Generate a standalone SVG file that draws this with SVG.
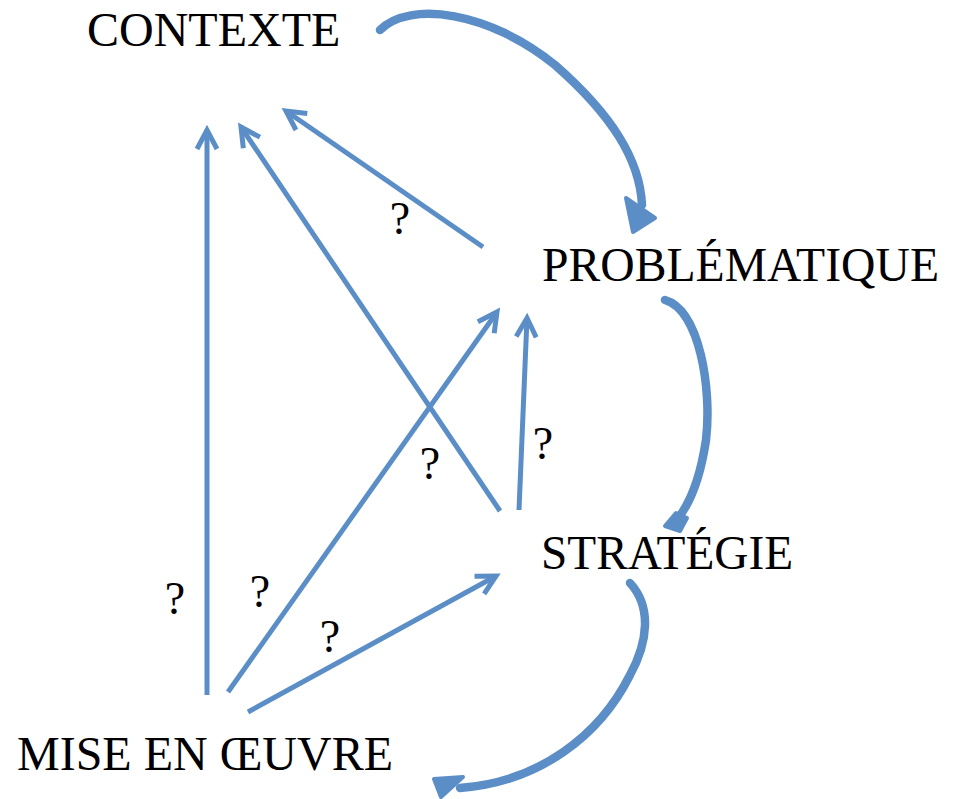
<svg xmlns="http://www.w3.org/2000/svg" width="954" height="799" viewBox="0 0 954 799">
<style>
.lbl{font-family:"Liberation Serif","Times New Roman",serif;font-size:48px;fill:#000}
.q{font-family:"Liberation Serif","Times New Roman",serif;font-size:46px;fill:#000;text-anchor:middle}
.thin{fill:none;stroke:#5B8EC7;stroke-width:5;marker-end:url(#v)}
.thick{fill:none;stroke:#5B8EC7;stroke-width:8.5;stroke-linecap:round}
.head{fill:#5B8EC7;stroke:#5B8EC7;stroke-width:4;stroke-linejoin:round}
</style>
<defs>
<marker id="v" markerUnits="userSpaceOnUse" markerWidth="40" markerHeight="40" viewBox="-30 -20 40 40" refX="0" refY="0" orient="auto" overflow="visible">
<path d="M-19,-10 L0,0 L-19,10" fill="none" stroke="#5B8EC7" stroke-width="5"/>
</marker>
</defs>
<rect width="954" height="799" fill="#fff"/>
<g id="connectors">
<line class="thin" x1="207" y1="695" x2="207" y2="130"/>
<line class="thin" x1="500" y1="511" x2="241" y2="127"/>
<line class="thin" x1="483" y1="247" x2="286" y2="111"/>
<line class="thin" x1="228" y1="692" x2="497" y2="312"/>
<line class="thin" x1="519" y1="510" x2="527" y2="318"/>
<line class="thin" x1="248" y1="712" x2="496" y2="576"/>
<path class="thick" d="M380,30 C410,0 490,12 555,65 C612,115 640,160 642,205"/>
<polygon class="head" points="626,198 655,218 633,232"/>
<path class="thick" d="M665,300 C700,310 712,390 706,440 C700,480 690,505 675,522"/>
<polygon class="head" points="665,526 676,513 687,518 680,531"/>
<path class="thick" d="M630,583 C652,607 648,642 630,675 C600,735 540,782 460,788"/>
<polygon class="head" points="434,779 463,777 441,797"/>
</g>
<g id="n-contexte"><text class="lbl" x="87" y="46">CONTEXTE</text></g>
<g id="n-problematique"><text class="lbl" x="542" y="281" textLength="397" lengthAdjust="spacingAndGlyphs">PROBLÉMATIQUE</text></g>
<g id="n-strategie"><text class="lbl" x="541" y="569" textLength="252" lengthAdjust="spacingAndGlyphs">STRATÉGIE</text></g>
<g id="n-mise"><text class="lbl" x="17" y="770">MISE EN ŒUVRE</text></g>
<g id="labels">
<text class="q" x="400" y="234">?</text>
<text class="q" x="543" y="459">?</text>
<text class="q" x="430" y="479">?</text>
<text class="q" x="175" y="614">?</text>
<text class="q" x="260" y="607">?</text>
<text class="q" x="330" y="652">?</text>
</g>
</svg>
